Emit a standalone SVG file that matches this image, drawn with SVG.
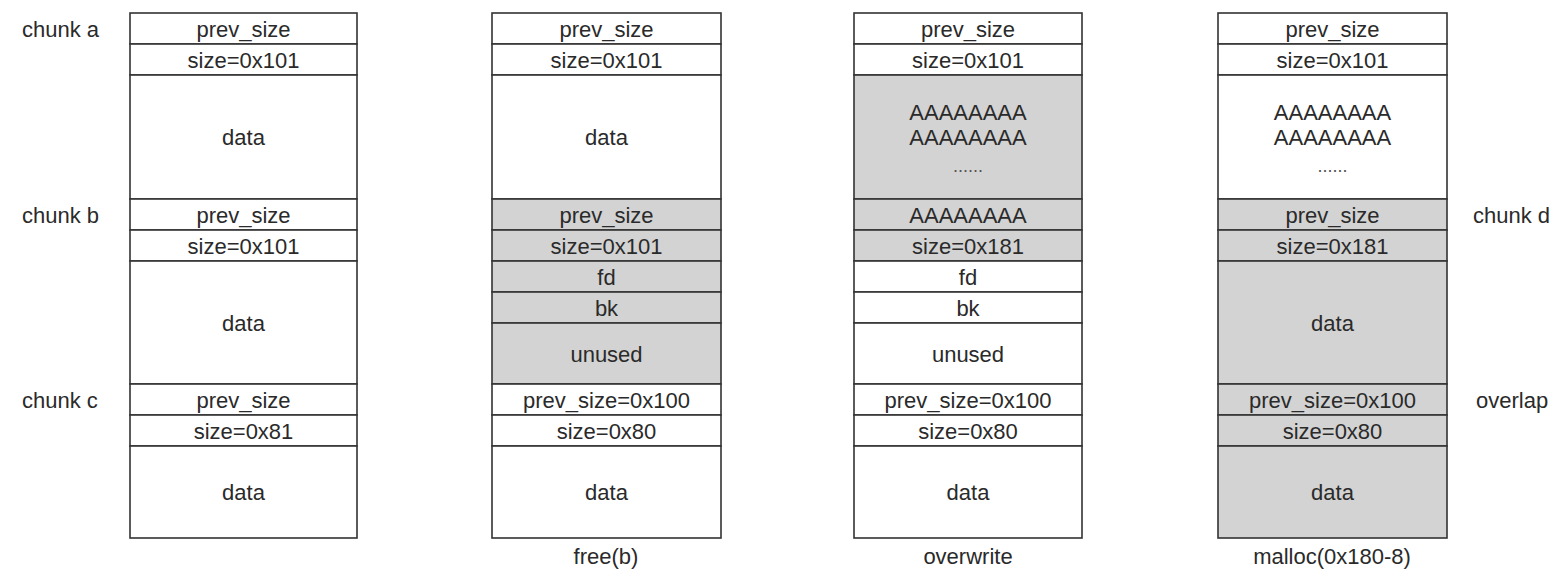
<svg xmlns="http://www.w3.org/2000/svg" width="1568" height="581" viewBox="0 0 1568 581">
<style>
.c{stroke:#333;stroke-width:1.6;fill:#fff}
.g{fill:#d3d3d3}
text{font-family:"Liberation Sans",Arial,sans-serif;font-size:22px;fill:#2a2a2a;text-anchor:middle;dominant-baseline:central}
.l{text-anchor:start}
.d{font-size:18px;fill:#555}
</style>
<rect width="1568" height="581" fill="#fff"/>
<g id="labels">
<text class="l" x="22" y="29">chunk a</text>
<text class="l" x="22" y="215">chunk b</text>
<text class="l" x="22" y="400">chunk c</text>
<text class="l" x="1473" y="215">chunk d</text>
<text class="l" x="1476" y="400">overlap</text>
<text x="606" y="556">free(b)</text>
<text x="968" y="556">overwrite</text>
<text x="1332" y="556">malloc(0x180-8)</text>
</g>
<g id="col1">
<rect class="c" x="130" y="13" width="227" height="31"/><text x="243.5" y="29">prev_size</text>
<rect class="c" x="130" y="44" width="227" height="31"/><text x="243.5" y="60">size=0x101</text>
<rect class="c" x="130" y="75" width="227" height="124"/><text x="243.5" y="137">data</text>
<rect class="c" x="130" y="199" width="227" height="31"/><text x="243.5" y="215">prev_size</text>
<rect class="c" x="130" y="230" width="227" height="31"/><text x="243.5" y="246">size=0x101</text>
<rect class="c" x="130" y="261" width="227" height="123"/><text x="243.5" y="323">data</text>
<rect class="c" x="130" y="384" width="227" height="31"/><text x="243.5" y="400">prev_size</text>
<rect class="c" x="130" y="415" width="227" height="31"/><text x="243.5" y="431">size=0x81</text>
<rect class="c" x="130" y="446" width="227" height="92"/><text x="243.5" y="492">data</text>
</g>
<g id="col2">
<rect class="c" x="492" y="13" width="229" height="31"/><text x="606.5" y="29">prev_size</text>
<rect class="c" x="492" y="44" width="229" height="31"/><text x="606.5" y="60">size=0x101</text>
<rect class="c" x="492" y="75" width="229" height="124"/><text x="606.5" y="137">data</text>
<rect class="c g" x="492" y="199" width="229" height="31"/><text x="606.5" y="215">prev_size</text>
<rect class="c g" x="492" y="230" width="229" height="31"/><text x="606.5" y="246">size=0x101</text>
<rect class="c g" x="492" y="261" width="229" height="31"/><text x="606.5" y="277">fd</text>
<rect class="c g" x="492" y="292" width="229" height="31"/><text x="606.5" y="308">bk</text>
<rect class="c g" x="492" y="323" width="229" height="61"/><text x="606.5" y="354">unused</text>
<rect class="c" x="492" y="384" width="229" height="31"/><text x="606.5" y="400">prev_size=0x100</text>
<rect class="c" x="492" y="415" width="229" height="31"/><text x="606.5" y="431">size=0x80</text>
<rect class="c" x="492" y="446" width="229" height="92"/><text x="606.5" y="492">data</text>
</g>
<g id="col3">
<rect class="c" x="854" y="13" width="228" height="31"/><text x="968" y="29">prev_size</text>
<rect class="c" x="854" y="44" width="228" height="31"/><text x="968" y="60">size=0x101</text>
<rect class="c g" x="854" y="75" width="228" height="124"/><text x="968" y="112">AAAAAAAA</text><text x="968" y="137">AAAAAAAA</text><text class="d" x="968" y="166">......</text>
<rect class="c g" x="854" y="199" width="228" height="31"/><text x="968" y="215">AAAAAAAA</text>
<rect class="c g" x="854" y="230" width="228" height="31"/><text x="968" y="246">size=0x181</text>
<rect class="c" x="854" y="261" width="228" height="31"/><text x="968" y="277">fd</text>
<rect class="c" x="854" y="292" width="228" height="31"/><text x="968" y="308">bk</text>
<rect class="c" x="854" y="323" width="228" height="61"/><text x="968" y="354">unused</text>
<rect class="c" x="854" y="384" width="228" height="31"/><text x="968" y="400">prev_size=0x100</text>
<rect class="c" x="854" y="415" width="228" height="31"/><text x="968" y="431">size=0x80</text>
<rect class="c" x="854" y="446" width="228" height="92"/><text x="968" y="492">data</text>
</g>
<g id="col4">
<rect class="c" x="1218" y="13" width="229" height="31"/><text x="1332.5" y="29">prev_size</text>
<rect class="c" x="1218" y="44" width="229" height="31"/><text x="1332.5" y="60">size=0x101</text>
<rect class="c" x="1218" y="75" width="229" height="124"/><text x="1332.5" y="112">AAAAAAAA</text><text x="1332.5" y="137">AAAAAAAA</text><text class="d" x="1332.5" y="166">......</text>
<rect class="c g" x="1218" y="199" width="229" height="31"/><text x="1332.5" y="215">prev_size</text>
<rect class="c g" x="1218" y="230" width="229" height="31"/><text x="1332.5" y="246">size=0x181</text>
<rect class="c g" x="1218" y="261" width="229" height="123"/><text x="1332.5" y="323">data</text>
<rect class="c g" x="1218" y="384" width="229" height="31"/><text x="1332.5" y="400">prev_size=0x100</text>
<rect class="c g" x="1218" y="415" width="229" height="31"/><text x="1332.5" y="431">size=0x80</text>
<rect class="c g" x="1218" y="446" width="229" height="92"/><text x="1332.5" y="492">data</text>
</g>
</svg>
